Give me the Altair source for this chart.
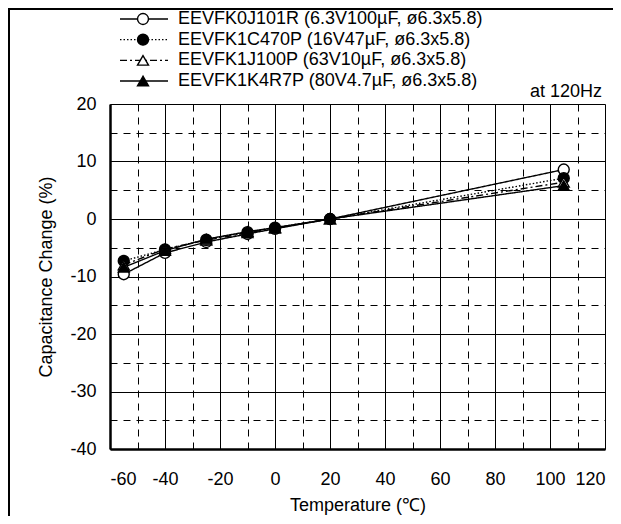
import altair as alt
import pandas as pd

# ---- data ----
temps = [-55, -40, -25, -10, 0, 20, 105]
series_names = [
    "EEVFK0J101R (6.3V100µF, ø6.3x5.8)",
    "EEVFK1C470P (16V47µF, ø6.3x5.8)",
    "EEVFK1J100P (63V10µF, ø6.3x5.8)",
    "EEVFK1K4R7P (80V4.7µF, ø6.3x5.8)",
]
legend_rows = [0, 1, 2, 3]
s1 = [-9.6, -5.9, -4.0, -2.6, -1.7, 0.0, 8.6]
s2 = [-7.3, -5.3, -3.6, -2.3, -1.5, 0.0, 7.1]
s3 = [-8.0, -5.2, -3.7, -2.4, -1.6, 0.0, 6.4]
s4 = [-8.4, -5.5, -3.5, -2.2, -1.5, 0.0, 5.8]
all_series = [s1, s2, s3, s4]

x_ticks = list(range(-60, 121, 10))
y_ticks = list(range(-40, 21, 5))

rows = []
for name, vals in zip(series_names, all_series):
    for t, v in zip(temps, vals):
        rows.append({"series": name, "temp": t, "change": v})
df = pd.DataFrame(rows)
legend_df = pd.DataFrame({"series": series_names, "row": legend_rows})

FONT = "Liberation Sans"
FS = 18

dash_scale = alt.Scale(domain=series_names, range=[[1, 0], [1.5, 2], [7, 3, 2, 3], [1, 0]])
shape_scale = alt.Scale(domain=series_names, range=["circle", "circle", "triangle-up", "triangle-up"])
fill_scale = alt.Scale(domain=series_names, range=["white", "black", "white", "black"])

x_axis = alt.Axis(
    values=x_ticks,
    labelExpr="datum.value % 20 == 0 ? '' + datum.value : ''",
    grid=True, gridColor="black", gridOpacity=1, gridWidth=1,
    gridDash={"condition": {"test": "datum.value % 20 != 0", "value": [7, 6]}, "value": []},
    ticks=False, domainColor="black", domainWidth=2.5,
    labelFont=FONT, labelFontSize=FS, labelColor="black", labelPadding=21,
    title="Temperature (℃)", titleFont=FONT, titleFontSize=FS,
    titleFontWeight="normal", titleColor="black", titlePadding=8,
)
y_axis = alt.Axis(
    values=y_ticks,
    labelExpr="datum.value % 10 == 0 ? '' + datum.value : ''",
    grid=True, gridColor="black", gridOpacity=1, gridWidth=1,
    gridDash={"condition": {"test": "datum.value % 10 != 0", "value": [7, 6]}, "value": []},
    ticks=False, domainColor="black", domainWidth=2.5,
    labelFont=FONT, labelFontSize=FS, labelColor="black", labelPadding=14,
    title="Capacitance Change (%)", titleFont=FONT, titleFontSize=FS,
    titleFontWeight="normal", titleColor="black", titlePadding=14,
)

base = alt.Chart(df).encode(
    x=alt.X("temp:Q", scale=alt.Scale(domain=[-60, 120], nice=False), axis=x_axis),
    y=alt.Y("change:Q", scale=alt.Scale(domain=[-40, 20], nice=False), axis=y_axis),
)

lines = base.mark_line(color="black", strokeWidth=1.4).encode(
    detail="series:N",
    strokeDash=alt.StrokeDash("series:N", scale=dash_scale, legend=None),
)
points = base.mark_point(filled=True, size=120, stroke="black", strokeWidth=1.4, opacity=1).encode(
    shape=alt.Shape("series:N", scale=shape_scale, legend=None),
    fill=alt.Fill("series:N", scale=fill_scale, legend=None),
)
main = alt.layer(lines, points)

leg_y = alt.Y("row:Q", scale=alt.Scale(domain=[0, 3], range=[-85, -23], nice=False, zero=False), axis=None)
leg_base = alt.Chart(legend_df).encode(y=leg_y)
leg_lines = leg_base.mark_rule(color="black", strokeWidth=1.4).encode(
    x=alt.value(10), x2=alt.value(58),
    strokeDash=alt.StrokeDash("series:N", scale=dash_scale, legend=None),
)
leg_points = leg_base.mark_point(filled=True, size=120, stroke="black", strokeWidth=1.4, opacity=1).encode(
    x=alt.value(33),
    shape=alt.Shape("series:N", scale=shape_scale, legend=None),
    fill=alt.Fill("series:N", scale=fill_scale, legend=None),
)
leg_text = leg_base.mark_text(align="left", baseline="middle", font=FONT, fontSize=FS, color="black").encode(
    x=alt.value(68), text="series:N",
)
legend = alt.layer(leg_lines, leg_points, leg_text)

freq = alt.Chart(pd.DataFrame({"t": ["at 120Hz"]})).mark_text(
    align="right", baseline="middle", font=FONT, fontSize=FS, color="black"
).encode(x=alt.value(492), y=alt.value(-12), text="t:N")

frame = alt.Chart(pd.DataFrame({"a": [0]})).mark_rect(
    fillOpacity=0, stroke="black", strokeWidth=2
).encode(x=alt.value(-101), x2=alt.value(2000), y=alt.value(-95), y2=alt.value(2000))

chart = alt.layer(main, legend, freq, frame).resolve_scale(
    y="independent"
).properties(
    width=495, height=345,
    autosize=alt.AutoSizeParams(type="none"),
    padding={"left": 102, "top": 96, "right": 8, "bottom": 67},
).configure_view(stroke="black", strokeWidth=1.5).configure(background="white")

chart.save("out.html", embed_options={"renderer": "svg", "actions": False})
